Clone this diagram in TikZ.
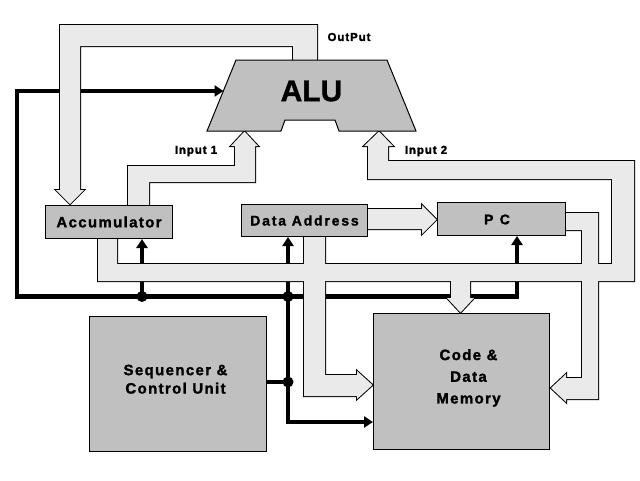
\documentclass[tikz,border=0pt]{standalone}
\usepackage{fontspec}
\setmainfont{Liberation Sans}[BoldFeatures={FakeBold=1.2}]
\newfontfamily\fAcc{Liberation Sans}[LetterSpace=9, BoldFeatures={FakeBold=1.4}]
\newfontfamily\fDat{Liberation Sans}[LetterSpace=13, BoldFeatures={FakeBold=1.4}]
\newfontfamily\fWide{Liberation Sans}[LetterSpace=9, BoldFeatures={FakeBold=1.6}]
\newfontfamily\fPC{Liberation Sans}[LetterSpace=45, BoldFeatures={FakeBold=1.4}]
\newfontfamily\fSmall{Liberation Sans}[LetterSpace=8, BoldFeatures={FakeBold=1.8}]
\usetikzlibrary{arrows.meta}
\definecolor{boxgray}{RGB}{192,192,192}
\definecolor{busgray}{RGB}{234,234,234}
\pgfdeclarelayer{bg}
\pgfdeclarelayer{mid}
\pgfsetlayers{bg,mid,main}
\begin{document}
\begin{tikzpicture}[x=1pt,y=-1pt,
  box/.style={draw=black, line width=1pt, fill=boxgray, inner sep=0pt, anchor=north west},
  ctrl/.style={line width=4.5pt, black, line join=miter},
  >={Triangle[length=9pt,width=11pt]},
  busline/.style={draw=black, line width=2pt, line join=miter},
  busfill/.style={fill=busgray},
  dot/.style={circle, fill=black, inner sep=0pt, minimum size=11pt},
  lbl/.style={font=\fSmall\bfseries\fontsize{11.5}{13}\selectfont, inner sep=0pt},
  busOut/.style={insert path={(293,62) -- (293,46) -- (80,46) -- (80,190) -- (84,190) -- (70,204) -- (56,190) -- (60,190) -- (60,25) -- (317,25) -- (317,62) -- cycle}},
  busInA/.style={insert path={(128,207) -- (128,166) -- (235,166) -- (235,146) -- (231,146) -- (244.5,131.5) -- (258,146) -- (255,146) -- (255,182) -- (149,182) -- (149,207) -- cycle}},
  busInB/.style={insert path={(364,146) -- (379,131.5) -- (393,146) -- (388,146) -- (388,161) -- (634,161) -- (634,281) -- (98,281) -- (98,236) -- (117,236) -- (117,264) -- (612,264) -- (612,179) -- (368,179) -- (368,146) -- cycle}},
  busDP/.style={insert path={(365,209) -- (422,209) -- (422,205) -- (436.5,219.5) -- (422,234) -- (422,229) -- (365,229) -- cycle}},
  busDM/.style={insert path={(304,234) -- (325,234) -- (325,375) -- (357,375) -- (357,371) -- (372.5,385) -- (357,399) -- (357,396) -- (304,396) -- cycle}},
  busMD/.style={insert path={(451,279) -- (470,279) -- (470,298) -- (474,298) -- (460.5,312.5) -- (447,298) -- (451,298) -- cycle}},
  busPM/.style={insert path={(563,213) -- (598,213) -- (598,399) -- (566,399) -- (566,402) -- (551,388) -- (566,374) -- (566,378) -- (582,378) -- (582,230) -- (563,230) -- cycle}}
]
\useasboundingbox (0,0) rectangle (640,480);

% ALU shape
\draw[line width=1pt, fill=boxgray, line join=miter]
  (236,60) -- (387,60) -- (416,131) -- (339,131) -- (335,120) -- (285,120) -- (281,131) -- (207,131) -- cycle;
\node[font=\bfseries\fontsize{30}{34}\selectfont, inner sep=0pt] (alu) at (311.5,91) {ALU};

% boxes
\node[box, minimum width=127pt, minimum height=33pt, font=\fAcc\bfseries\fontsize{15}{18}\selectfont] (acc) at (45,205) {Accumulator};
\node[box, minimum width=126pt, minimum height=32pt, font=\fDat\bfseries\fontsize{14}{17}\selectfont] (da) at (241,204) {Data Address};
\node[box, minimum width=128pt, minimum height=33pt] (pc) at (437,202) {};
\node[font=\fPC\bfseries\fontsize{14}{17}\selectfont, inner sep=0pt] (pct) at (497,219.5) {PC};
\node[box, minimum width=177pt, minimum height=135pt] (seq) at (89,316) {};
\node[align=center, font=\fWide\bfseries\fontsize{15}{18.4}\selectfont, inner sep=0pt] (seqt) at (175.5,379.2) {Sequencer \&\\Control Unit};
\node[box, minimum width=176pt, minimum height=136pt] (mem) at (373,313) {};
\node[align=center, font=\fWide\bfseries\fontsize{15}{21.7}\selectfont, inner sep=0pt] (memt) at (468.5,377.9) {Code \&\\Data\\Memory};

% labels
\node[lbl] (outl) at (349,37) {OutPut};
\node[lbl] (in1) at (196,151) {Input 1};
\node[lbl] (in2) at (426,151) {Input 2};

% control points
\coordinate (aluIn) at (223.5,91);
\coordinate (c1) at (17,91);
\coordinate (c2) at (17,296.5);
\coordinate (c3) at (517,296.5);
\coordinate (j1) at (142,296.5);
\coordinate (j2) at (288,296.5);
\coordinate (j3) at (288,382);
\coordinate (c4) at (288,422);

\begin{pgfonlayer}{bg}
\draw[ctrl,<->] (aluIn) -- (c1) -- (c2) -- (c3) -- (pc.south -| c3);
\draw[ctrl,->] (j1) -- (acc.south -| j1);
\draw[ctrl,->] (j2) -- (da.south -| j2);
\draw[ctrl,->] (j2) -- (c4) -- (mem.west |- c4);
\draw[ctrl] (seq.east |- j3) -- (j3);
\node[dot] (d1) at (j1) {};
\node[dot] (d2) at (j2) {};
\node[dot] (d3) at (j3) {};
\end{pgfonlayer}

\begin{pgfonlayer}{mid}
\path[busline, busOut];
\path[busline, busInA];
\path[busline, busInB];
\path[busline, busDP];
\path[busline, busDM];
\path[busline, busMD];
\path[busline, busPM];
\path[busfill, busOut];
\path[busfill, busInA];
\path[busfill, busInB];
\path[busfill, busDP];
\path[busfill, busDM];
\path[busfill, busMD];
\path[busfill, busPM];
\end{pgfonlayer}
\end{tikzpicture}
\end{document}
